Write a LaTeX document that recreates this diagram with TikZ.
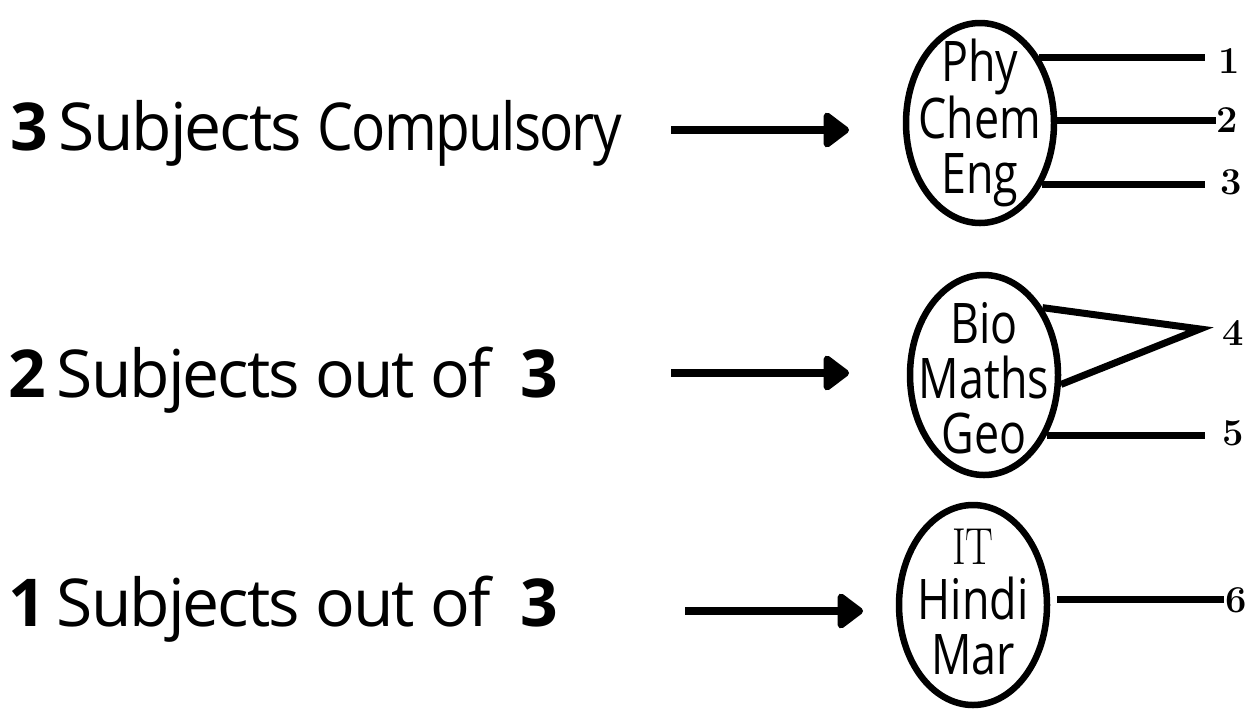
\documentclass[tikz,border=0pt]{standalone}
\usepackage{fontspec}
\usepackage{graphicx}
\newfontfamily\osans{Open Sans}
\newfontfamily\osanstight[LetterSpace=-3]{Open Sans}
\usetikzlibrary{arrows.meta,shapes.geometric}

\begin{document}
\begin{tikzpicture}[x=1pt,y=-1pt,
  lefttext/.style={anchor=base west, inner sep=0pt, font=\fontsize{66}{66}\osanstight},
  bubble/.style={draw, ellipse, line width=6.5pt, minimum width=148pt, minimum height=200pt, inner sep=0pt},
  bubbletext/.style={align=center, inner sep=0pt, font=\fontsize{56}{55}\osans, xscale=0.8},
  numlabel/.style={anchor=west, inner sep=0pt, font=\fontsize{38}{38}\selectfont\bfseries},
  link/.style={line width=7pt},
  bigarrow/.style={line width=8pt, -{Triangle[length=28pt,width=40pt,round]}, line join=round}
]
\useasboundingbox (0,0) rectangle (1252,713);

% left texts
\node[lefttext] (t1) at (10,150) {\bfseries 3\,\mdseries Subjects \scalebox{0.86}[1]{Compulsory}};
\node[lefttext] (t2) at (8,397) {\bfseries 2\,\mdseries Subjects out of\ \ \bfseries 3};
\node[lefttext] (t3) at (8,626) {\bfseries 1\,\mdseries Subjects out of\ \ \bfseries 3};

% arrows
\coordinate (a1s) at (671,130); \coordinate (a1e) at (849,130);
\coordinate (a2s) at (671,373); \coordinate (a2e) at (849,373);
\coordinate (a3s) at (685,611); \coordinate (a3e) at (863,611);
\draw[bigarrow] (a1s) -- (a1e);
\draw[bigarrow] (a2s) -- (a2e);
\draw[bigarrow] (a3s) -- (a3e);

% ellipses
\node[bubble] (e1) at (980,123) {};
\node[bubble] (e2) at (984,375) {};
\node[bubble] (e3) at (973,605) {};
\node[bubbletext] (b1) at (e1.center) {Phy\\Chem\\Eng};
\node[bubbletext] (b2) at ([yshift=-3pt]e2.center) {Bio\\Maths\\Geo};
\node[bubbletext] (b3) at ([yshift=3pt]e3.center) {{\rmfamily\fontsize{52}{52}\selectfont IT}\\Hindi\\Mar};

% number labels
\node[numlabel] (n1) at (1218,61) {1};
\node[numlabel] (n2) at (1216,120) {2};
\node[numlabel] (n3) at (1220,182) {3};
\node[numlabel] (n4) at (1222,333) {4};
\node[numlabel] (n5) at (1222,433) {5};
\node[numlabel] (n6) at (1225,600) {6};

% line ends
\coordinate (c1) at (1205,61);
\coordinate (c2) at (1216,120);
\coordinate (c3) at (1205,182);
\coordinate (c4) at (1200,329);
\coordinate (c5) at (1205,433);
\coordinate (c6) at (1217,600);

\draw[link] (e1.48.4) -- (e1.48.4 -| c1);
\draw[link] (e1.2) -- (e1.2 -| c2);
\draw[link] (e1.-45.4) -- (e1.-45.4 -| c3);
\draw[link] (e2.49.7) -- (c4) -- (e2.-7.5);
\draw[link] (e2.-44.7) -- (e2.-44.7 -| c5);
\draw[link] ([xshift=7pt]e3.4) -- ([xshift=7pt]e3.4 -| c6);
\end{tikzpicture}
\end{document}
